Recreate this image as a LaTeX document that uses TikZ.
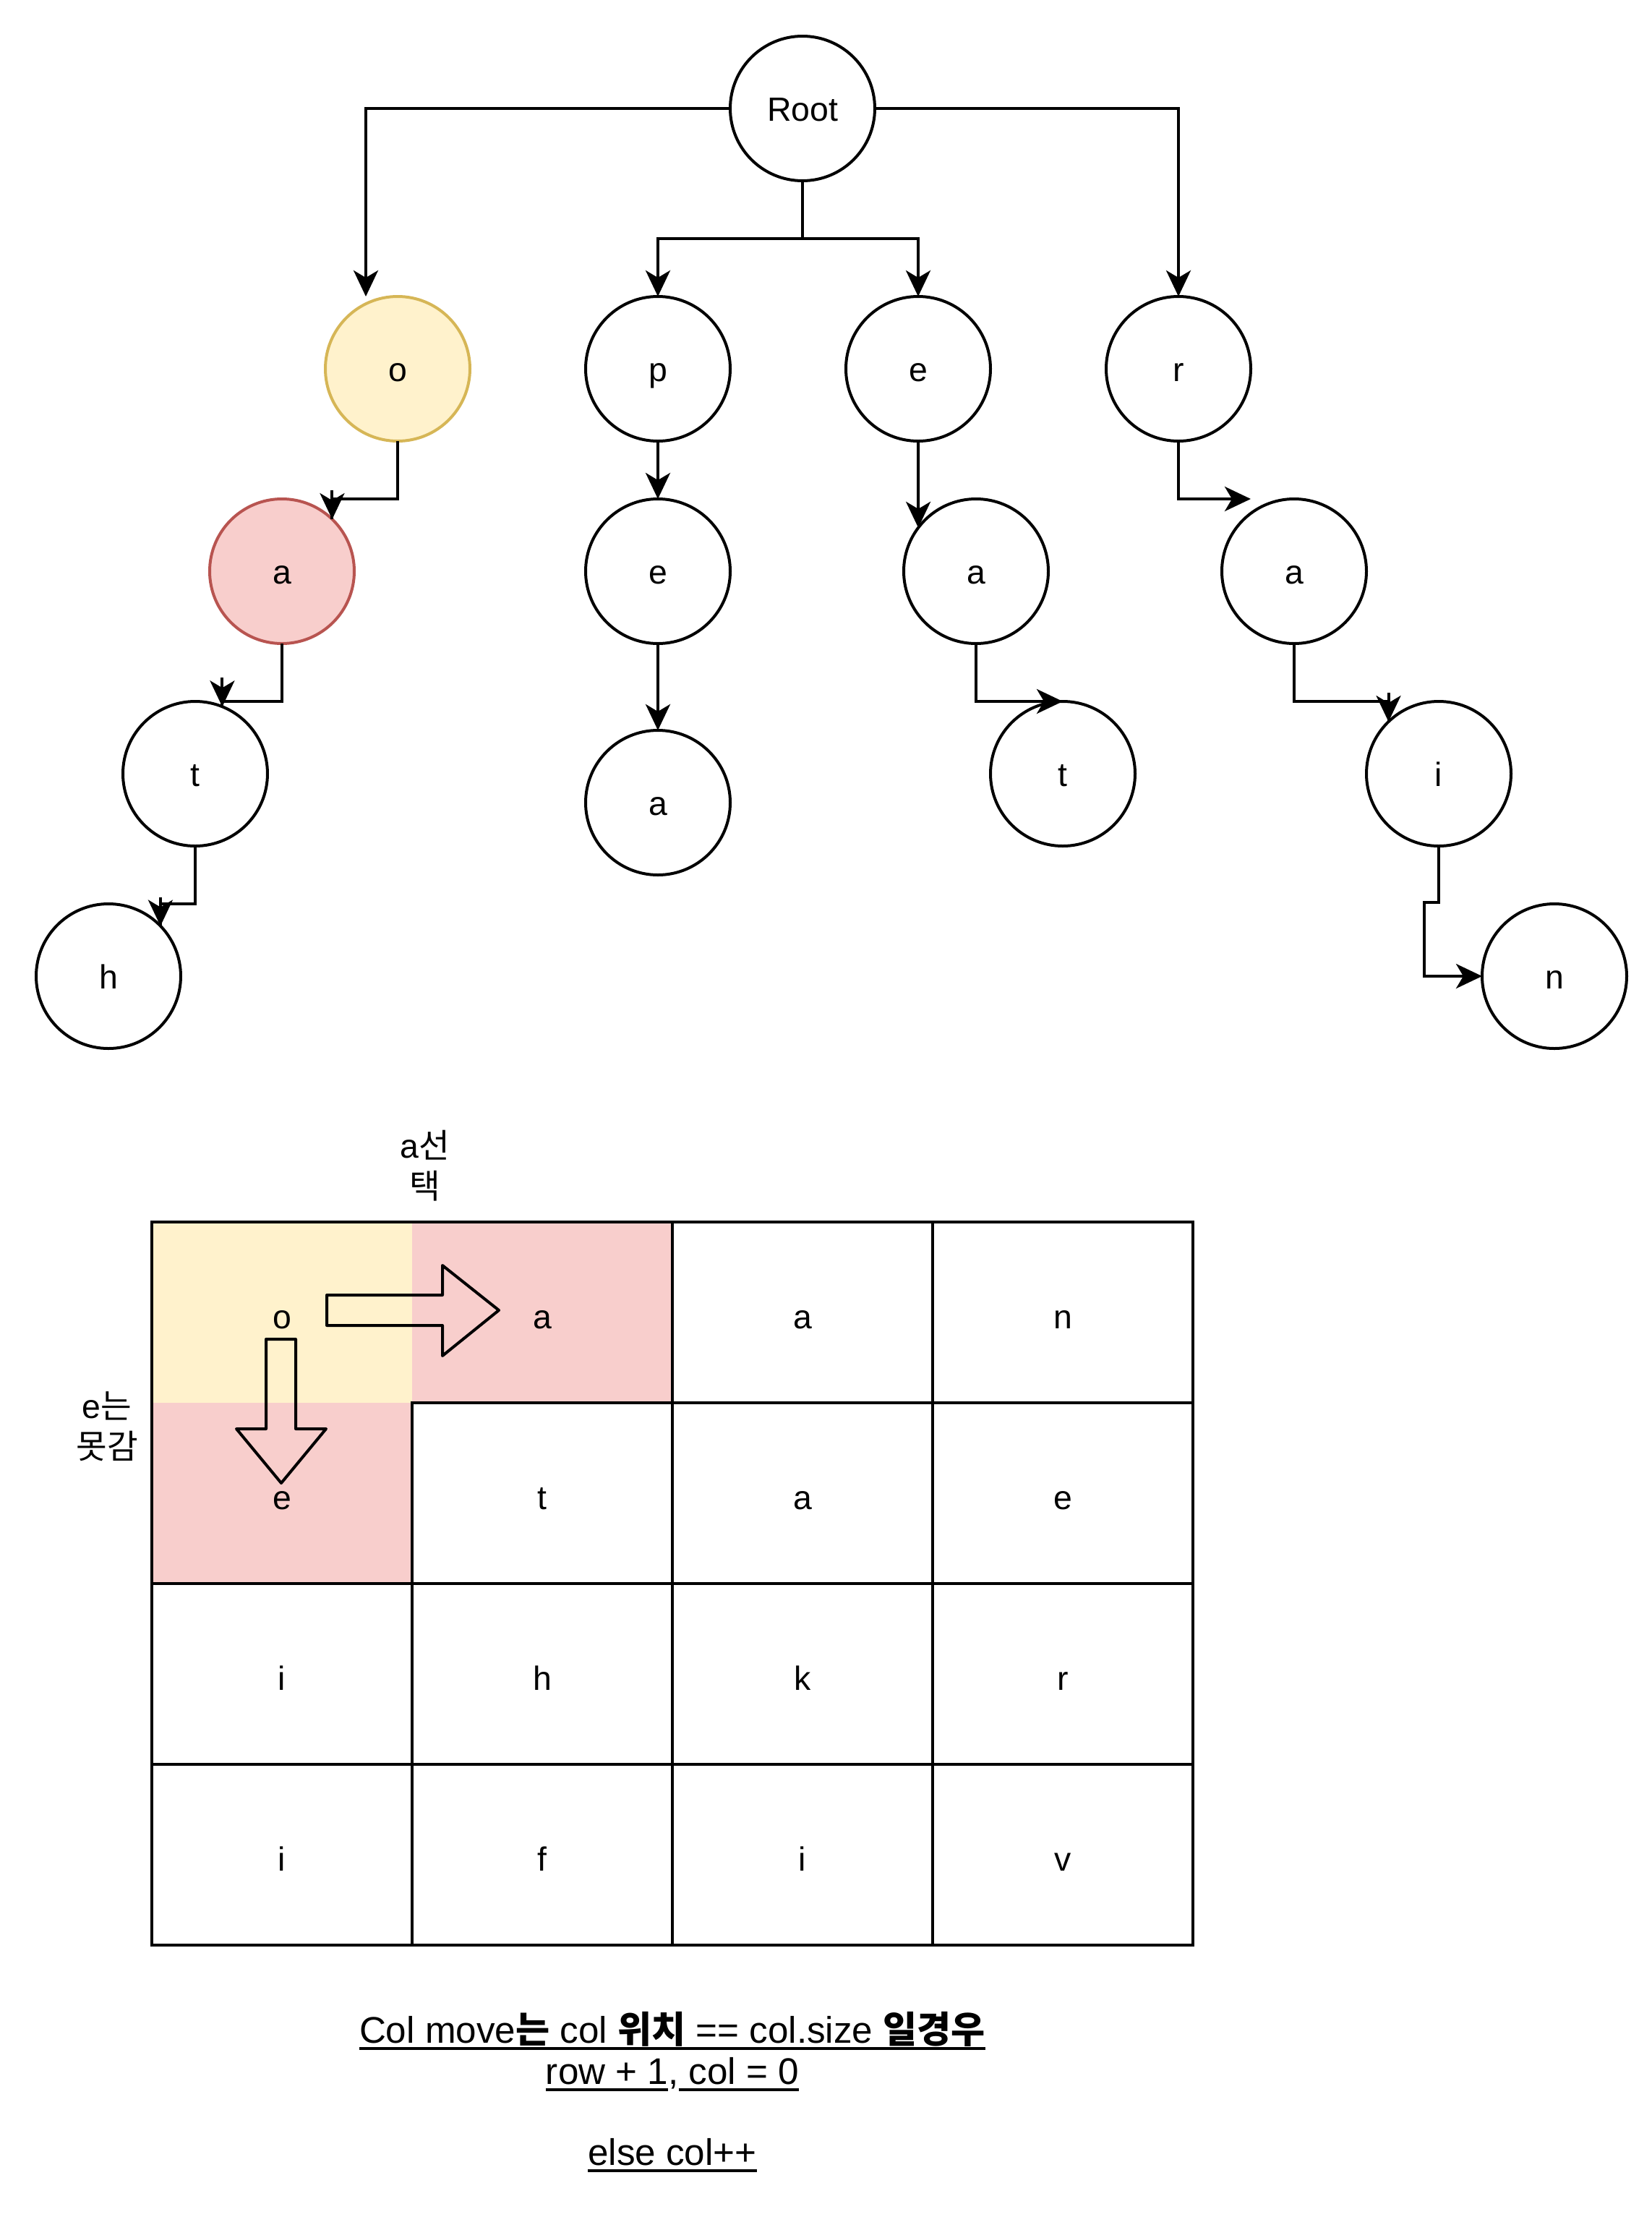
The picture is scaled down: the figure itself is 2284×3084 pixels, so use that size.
\documentclass[tikz,border=0pt]{standalone}
\usepackage{fontspec}
\setmainfont{Liberation Sans}
\newfontfamily\kr{Noto Sans CJK KR}
\usetikzlibrary{arrows.meta,calc}
\definecolor{yfill}{HTML}{FFF2CC}
\definecolor{ydraw}{HTML}{D6B656}
\definecolor{rfill}{HTML}{F8CECC}
\definecolor{rdraw}{HTML}{B85450}
\newcommand\myul[1]{\setbox0=\hbox{#1}\rlap{\rule[-2.6pt]{\wd0}{1.2pt}}\box0}
\begin{document}
\begin{tikzpicture}[x=0.25pt,y=-0.25pt,line width=1pt,
  every node/.style={font=\fontsize{11.6}{14}\selectfont},
  tnode/.style={circle,draw,minimum size=50pt,inner sep=0pt,outer sep=0pt,text height=10pt,text depth=1.2pt},
  conn/.style={line width=1pt},
  arr/.style={line width=1pt,-{Stealth[length=9pt,width=8.5pt,inset=2.5pt]}},
  cell/.style={minimum width=90pt,minimum height=62.5pt,inner sep=0pt,outer sep=0pt,text height=12pt,text depth=1pt},
  wcell/.style={cell,draw},
  blockarrow/.style={draw,line width=1pt,line join=round},
  note/.style={anchor=base,font=\fontsize{12.8}{15}\selectfont}]
\fill[white] (0,0) rectangle (2284,3084);
\useasboundingbox (0,0) rectangle (2284,3084);

% trie nodes
\node[tnode] (root) at (1110,150) {Root};
\node[tnode,fill=yfill,draw=ydraw] (o) at (550,510) {o};
\node[tnode] (p) at (910,510) {p};
\node[tnode] (e) at (1270,510) {e};
\node[tnode] (r) at (1630,510) {r};
\node[tnode,fill=rfill,draw=rdraw] (ared) at (390,790) {a};
\node[tnode] (pe) at (910,790) {e};
\node[tnode] (ea) at (1350,790) {a};
\node[tnode] (ra) at (1790,790) {a};
\node[tnode] (at) at (270,1070) {t};
\node[tnode] (pea) at (910,1110) {a};
\node[tnode] (eat) at (1470,1070) {t};
\node[tnode] (rai) at (1990,1070) {i};
\node[tnode] (ath) at (150,1350) {h};
\node[tnode] (rain) at (2150,1350) {n};

% connectors
\draw[arr] (root.west) -| ($(o.north)+(-44,0)$);
\draw[arr] (root.east) -| (r.north);
\draw[arr] (root.south) -- ++(0,80) -| (p.north);
\draw[arr] (root.south) -- ++(0,80) -| (e.north);
\draw[arr] (p.south) -- (pe.north);
\draw[arr] (pe.south) -- (pea.north);
\draw[arr] (e.south) -- (ea.143);
\draw[arr] (ea.south) |- (eat.north);
\draw[arr] (r.south) |- ($(ra.north)+(-60,0)$);
\draw[arr] (rai.south) -- ++(0,78) -- ++(-20,0) |- (rain.west);

\draw[conn] (o.south) |- (ared.46 |- ared.north) -- (ared.46);
\draw[arr] ($(ared.46)+(0,-40)$) -- (ared.46);
\draw[conn] (ared.south) |- (at.68 |- at.north) -- (at.68);
\draw[arr] ($(at.68)+(0,-40)$) -- (at.68);
\draw[conn] (at.south) |- (ath.44 |- ath.north) -- (ath.44);
\draw[arr] ($(ath.44)+(0,-40)$) -- (ath.44);
\draw[conn] (ra.south) |- (rai.134 |- rai.north) -- (rai.134);
\draw[arr] ($(rai.134)+(0,-40)$) -- (rai.134);

% grid
\node[cell,fill=yfill] (c00) at (390,1815) {o};
\node[cell,fill=rfill] (c01) at (750,1815) {a};
\node[wcell] (c02) at (1110,1815) {a};
\node[wcell] (c03) at (1470,1815) {n};
\node[cell,fill=rfill] (c10) at (390,2065) {e};
\node[wcell] (c11) at (750,2065) {t};
\node[wcell] (c12) at (1110,2065) {a};
\node[wcell] (c13) at (1470,2065) {e};
\node[wcell] (c20) at (390,2315) {i};
\node[wcell] (c21) at (750,2315) {h};
\node[wcell] (c22) at (1110,2315) {k};
\node[wcell] (c23) at (1470,2315) {r};
\node[wcell] (c30) at (390,2565) {i};
\node[wcell] (c31) at (750,2565) {f};
\node[wcell] (c32) at (1110,2565) {i};
\node[wcell] (c33) at (1470,2565) {v};
\draw (c00.north west) rectangle (c33.south east);

% block arrows
\draw[blockarrow] (452,1791) -- (612,1791) -- (612,1750) -- (690,1812) -- (612,1875) -- (612,1833) -- (452,1833) -- cycle;
\draw[blockarrow] (368,1852) -- (409,1852) -- (409,1976) -- (451,1976) -- (389,2051) -- (327,1976) -- (368,1976) -- cycle;

% labels
\node[align=center] (lbla) at (588,1612) {a{\kr 선}\\{\kr 택}};
\node[align=center] (lble) at (148,1973) {e{\kr 는}\\{\kr 못감}};
\node[note] (l1) at (930,2825) {\myul{Col move{\kr\bfseries 는} col {\kr\bfseries 위치} == col.size {\kr\bfseries 일경우}}};
\node[note] (l2) at (930,2882) {\myul{row + 1},\myul{ col = 0}};
\node[note] (l3) at (930,2994) {\myul{else col++}};
\end{tikzpicture}
\end{document}
